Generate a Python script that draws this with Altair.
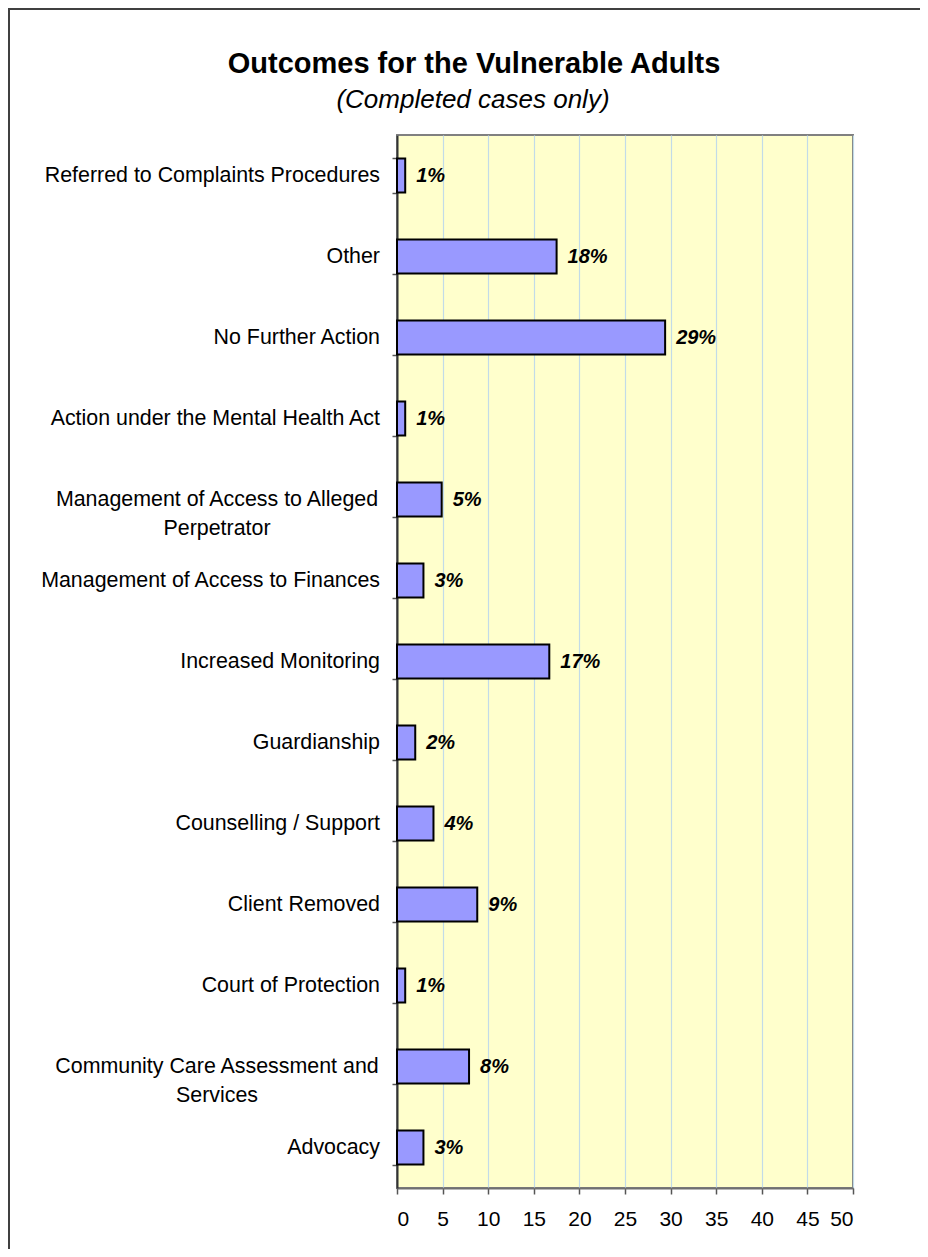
import altair as alt
import pandas as pd

# ---- data ----
categories = [
    "Referred to Complaints Procedures",
    "Other",
    "No Further Action",
    "Action under the Mental Health Act",
    "Management of Access to Alleged Perpetrator",
    "Management of Access to Finances",
    "Increased Monitoring",
    "Guardianship",
    "Counselling / Support",
    "Client Removed",
    "Court of Protection",
    "Community Care Assessment and Services",
    "Advocacy",
]
values = [0.9, 17.5, 29.4, 0.9, 4.9, 2.9, 16.7, 2.0, 4.0, 8.8, 0.9, 7.9, 2.9]
pct_labels = ["1%", "18%", "29%", "1%", "5%", "3%", "17%", "2%", "4%", "9%", "1%", "8%", "3%"]
x_ticks = [0, 5, 10, 15, 20, 25, 30, 35, 40, 45, 50]

title_text = "Outcomes for the Vulnerable Adults"
subtitle_text = "(Completed cases only)"

# labels that wrap onto two lines in the reference
wrapped = {
    "Management of Access to Alleged Perpetrator": ["Management of Access to Alleged", "Perpetrator"],
    "Community Care Assessment and Services": ["Community Care Assessment and", "Services"],
}

df = pd.DataFrame({"cat": categories, "val": values, "pct": pct_labels})
single_df = df[~df["cat"].isin(wrapped.keys())].copy()
multi_df = df[df["cat"].isin(wrapped.keys())].copy()
multi_df["lines"] = [wrapped[c] for c in multi_df["cat"]]

FONT = "Liberation Sans"

y_scale = alt.Scale(domain=categories, paddingInner=0.58, paddingOuter=0.29)
y_axis = alt.Axis(
    title=None, labels=False, ticks=True, tickBand="extent", tickSize=5,
    tickColor="#555555", tickWidth=1.5, domainColor="#333333", domainWidth=2, grid=False,
)
y_enc = alt.Y("cat:N", scale=y_scale, axis=y_axis, sort=categories)

x_scale = alt.Scale(domain=[0, 50], nice=False)
x_axis = alt.Axis(
    title=None, values=x_ticks, grid=True, gridColor="#c2dbe8", gridWidth=1.2,
    tickSize=6, tickColor="#555555", tickWidth=1.5, domainColor="#707070", domainWidth=2,
    labelFontSize=21, labelFont=FONT, labelColor="#000000", labelPadding=14,
)

base = alt.Chart(df)

bars = base.mark_bar(color="#9999FF", stroke="#000000", strokeWidth=2).encode(
    x=alt.X("val:Q", scale=x_scale, axis=x_axis),
    y=y_enc,
)

bar_text = base.mark_text(
    align="left", baseline="middle", dx=11, font=FONT, fontSize=20,
    fontWeight="bold", fontStyle="italic", color="#000000",
).encode(
    x=alt.X("val:Q", scale=x_scale, axis=x_axis),
    y=y_enc,
    text="pct:N",
)

ylab_single = alt.Chart(single_df).mark_text(
    align="right", baseline="middle", font=FONT, fontSize=21.4, color="#000000",
).encode(
    x=alt.value(-17),
    y=y_enc,
    text="cat:N",
)

ylab_multi = alt.Chart(multi_df).mark_text(
    align="center", baseline="middle", font=FONT, fontSize=21.4, color="#000000", lineHeight=29,
).encode(
    x=alt.value(-180),
    y=y_enc,
    text="lines",
)

one = pd.DataFrame({"t": [title_text], "s": [subtitle_text]})
title_mark = alt.Chart(one).mark_text(
    align="center", baseline="alphabetic", font=FONT, fontSize=29, fontWeight="bold", color="#000000",
).encode(x=alt.value(77), y=alt.value(-62), text="t:N")
subtitle_mark = alt.Chart(one).mark_text(
    align="center", baseline="alphabetic", font=FONT, fontSize=26, fontStyle="italic", color="#000000",
).encode(x=alt.value(76), y=alt.value(-27), text="s:N")

border = alt.Chart(one).mark_rect(fill=None, stroke="#404040", strokeWidth=2).encode(
    x=alt.value(-388), x2=alt.value(600), y=alt.value(-126), y2=alt.value(1200),
)

chart = alt.layer(
    border, bars, bar_text, ylab_single, ylab_multi, title_mark, subtitle_mark
).properties(
    width=456, height=1053,
    padding={"left": 389, "top": 127, "right": 67, "bottom": 61},
    autosize=alt.AutoSizeParams(type="none"),
    background="#FFFFFF",
).configure_view(
    fill="#FFFFCC", stroke="#808080", strokeWidth=2,
)

chart.save("out.html", embed_options={"renderer": "svg", "actions": False})
